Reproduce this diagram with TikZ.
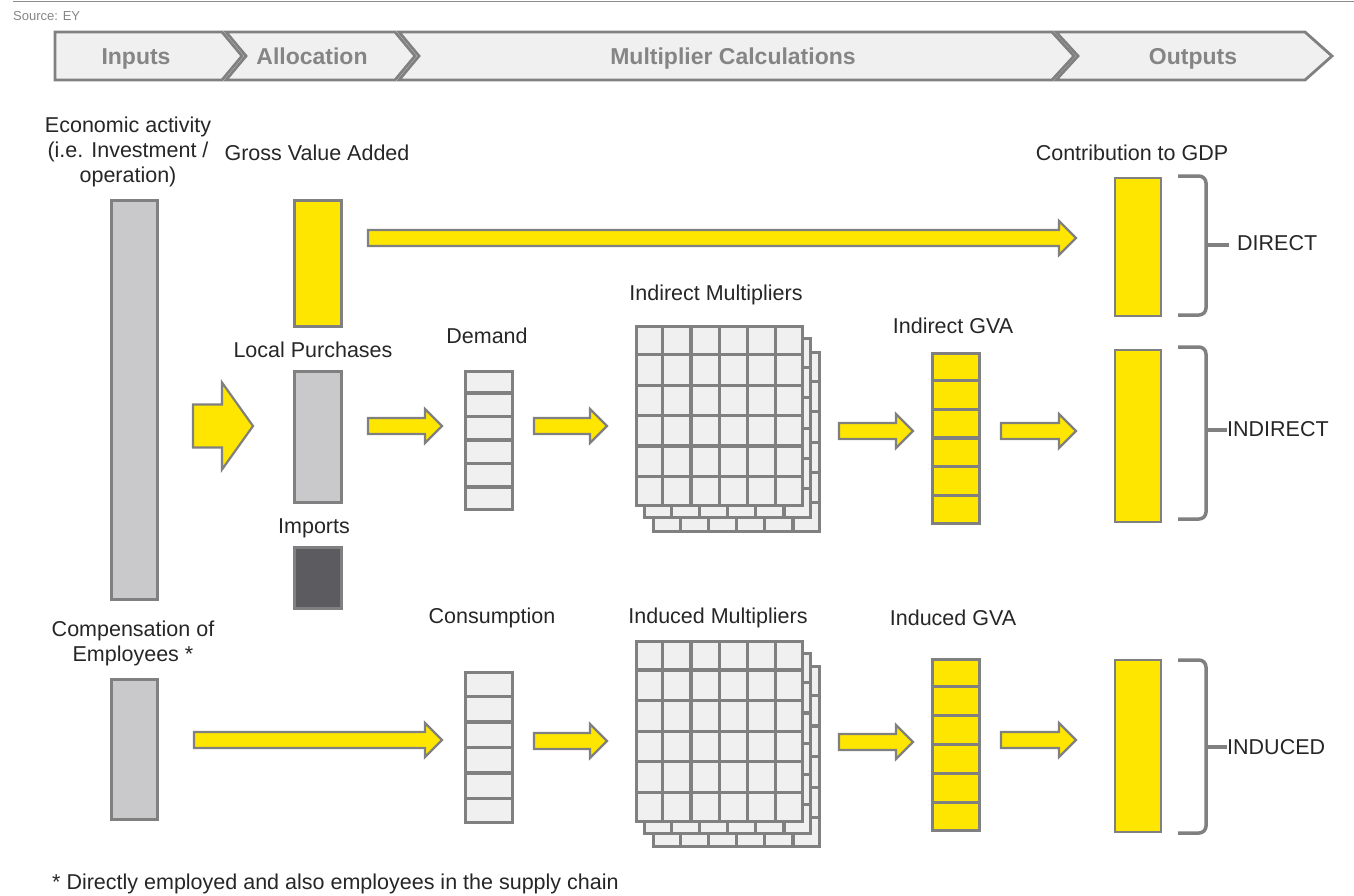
\documentclass[tikz,border=0pt]{standalone}
\usepackage{fontspec}
\setmainfont{Liberation Sans}
\usetikzlibrary{calc}
\definecolor{eyyel}{HTML}{FFE600}
\definecolor{edge}{HTML}{808080}
\definecolor{lgray}{HTML}{C9C9CB}
\definecolor{cellf}{HTML}{F0F0F0}
\definecolor{dgray}{HTML}{5C5B60}
\definecolor{txt}{HTML}{262626}
\definecolor{hdr}{HTML}{858585}

\tikzset{
  lbl/.style={text=txt, font=\fontsize{21.5}{25}\selectfont, inner sep=0pt, align=center},
  hlbl/.style={text=hdr, font=\bfseries\fontsize{23}{26}\selectfont, inner sep=0pt, anchor=base},
  chev/.style={draw=edge, fill=cellf, line width=2.8pt, line join=miter},
  bar/.style={draw=edge, line width=3pt, inner sep=0pt, anchor=north west},
  yarr/.style={draw=edge, fill=eyyel, line width=2.2pt, line join=miter},
  brk/.style={draw=edge, line width=3.5pt, rounded corners=7pt},
  gline/.style={draw=edge, line width=3.2pt}
}

% start, end, shaft half, head half, head length
\newcommand{\blockarrow}[5]{%
  \draw[yarr] ($(#1)+(0,-#3)$) -- ($(#2)+(-#5,-#3)$) -- ($(#2)+(-#5,-#4)$) -- (#2)
    -- ($(#2)+(-#5,#4)$) -- ($(#2)+(-#5,#3)$) -- ($(#1)+(0,#3)$) -- cycle;}

% name, x, y, height, fill
\newcommand{\cellcol}[5]{%
  \node[bar, fill=#5, minimum width=47pt, minimum height=#4pt] (#1) at (#2,#3) {};
  \foreach \k in {1,...,5}
    \draw[gline] ($(#1.north west)!\k/6!(#1.south west)$) -- ($(#1.north east)!\k/6!(#1.south east)$);}

% name, x, y, height
\newcommand{\mlayer}[4]{%
  \node[bar, line width=3.2pt, fill=cellf, minimum width=166pt, minimum height=#4pt] (#1) at (#2,#3) {};
  \foreach \k in {1,...,5}{
    \draw[gline] ($(#1.north west)!\k/6!(#1.north east)$) -- ($(#1.south west)!\k/6!(#1.south east)$);
    \draw[gline] ($(#1.north west)!\k/6!(#1.south west)$) -- ($(#1.north east)!\k/6!(#1.south east)$);}}

\begin{document}
\begin{tikzpicture}[x=1pt,y=-1pt]
\useasboundingbox (0,0) rectangle (1354,895);

% top rule and source
\draw[draw=edge!90, line width=1.5pt] (13,1.5) -- (1354,1.5);
\node[anchor=west, text=hdr, font=\fontsize{13}{15}\selectfont, inner sep=0pt] (src) at (13,16) {Source: EY};

% header chevrons
\draw[chev] (55,32) -- (222,32) -- (242,56) -- (222,80) -- (55,80) -- cycle;
\draw[chev] (226,32) -- (395,32) -- (415,56) -- (395,80) -- (226,80) -- (246,56) -- cycle;
\draw[chev] (399,32) -- (1052,32) -- (1074,56) -- (1052,80) -- (399,80) -- (419,56) -- cycle;
\draw[chev] (1056,32) -- (1305,32) -- (1332,56) -- (1305,80) -- (1056,80) -- (1078,56) -- cycle;
\node[hlbl] (hin) at (136,64) {Inputs};
\node[hlbl] (hal) at (312,64) {Allocation};
\node[hlbl] (hmc) at (733,64) {Multiplier Calculations};
\node[hlbl] (hout) at (1193,64) {Outputs};

% labels
\node[lbl] (tea) at (128,152) {Economic activity\\(i.e. Investment /\\operation)};
\node[lbl] (tgva) at (317,153) {Gross Value Added};
\node[lbl] (tgdp) at (1132,153) {Contribution to GDP};
\node[lbl] (tim) at (716,295) {Indirect Multipliers};
\node[lbl] (tdem) at (487,336) {Demand};
\node[lbl] (tlp) at (313,350) {Local Purchases};
\node[lbl] (tigva) at (953,326) {Indirect GVA};
\node[lbl] (timp) at (314,528) {Imports};
\node[lbl] (tcmp) at (133,643) {Compensation of\\Employees *};
\node[lbl] (tcon) at (492,618) {Consumption};
\node[lbl] (tnm) at (718,618) {Induced Multipliers};
\node[lbl] (tngva) at (953,618) {Induced GVA};
\node[lbl, anchor=west] (foot) at (52,884) {* Directly employed and also employees in the supply chain};

% bars
\node[bar, fill=lgray, minimum width=46pt, minimum height=399pt] (ea) at (109.5,198.5) {};
\node[bar, fill=eyyel, minimum width=47pt, minimum height=126pt] (gva) at (292.5,198.5) {};
\node[bar, fill=lgray, minimum width=47pt, minimum height=131pt] (lp) at (292.5,369.5) {};
\node[bar, fill=dgray, minimum width=47pt, minimum height=61pt] (imp) at (292.5,545.5) {};
\node[bar, fill=lgray, minimum width=46pt, minimum height=140pt] (cmp) at (109.5,677.5) {};

% cell columns
\cellcol{dem}{463.5}{369.5}{138}{cellf}
\cellcol{con}{463.5}{671}{150}{cellf}
\cellcol{igva}{930.5}{351.5}{170}{eyyel}
\cellcol{ngva}{930.5}{657.5}{171}{eyyel}

% matrices
\mlayer{im3}{652}{351}{179}
\mlayer{im2}{643}{337}{179}
\mlayer{im1}{634.5}{324.5}{179}
\mlayer{nm3}{652}{665}{180}
\mlayer{nm2}{643}{652}{180}
\mlayer{nm1}{634.5}{639.5}{180}

% output bars
\node[bar, fill=eyyel, line width=2.2pt, minimum width=46pt, minimum height=138pt] (o1) at (1114,177) {};
\node[bar, fill=eyyel, line width=2.2pt, minimum width=46pt, minimum height=172pt] (o2) at (1114,349) {};
\node[bar, fill=eyyel, line width=2.2pt, minimum width=46pt, minimum height=172pt] (o3) at (1114,659) {};

% brackets
\draw[brk] (1178,176) -- (1206,176) -- (1206,315) -- (1178,315);
\draw[gline, line width=3.5pt] (1206,245) -- (1229,245);
\node[lbl, anchor=west] (ldir) at (1237,243) {DIRECT};
\draw[brk] (1178,347) -- (1206,347) -- (1206,519) -- (1178,519);
\draw[gline, line width=3.5pt] (1206,430) -- (1227,430);
\node[lbl, anchor=west] (lind) at (1227,429) {INDIRECT};
\draw[brk] (1178,660) -- (1206,660) -- (1206,833) -- (1178,833);
\draw[gline, line width=3.5pt] (1206,747) -- (1227,747);
\node[lbl, anchor=west] (lnd) at (1227,747) {INDUCED};

% arrow coordinates
\coordinate (b1) at (193,426); \coordinate (b2) at (253,426);
\coordinate (r1a) at (368,238); \coordinate (r1b) at (1076,238);
\coordinate (r2a) at (368,426); \coordinate (r2b) at (442,426);
\coordinate (r2c) at (534,426); \coordinate (r2d) at (607,426);
\coordinate (r2e) at (839,431); \coordinate (r2f) at (913,431);
\coordinate (r2g) at (1001,431); \coordinate (r2h) at (1076,431);
\coordinate (r3a) at (194,740); \coordinate (r3b) at (442,740);
\coordinate (r3c) at (534,741); \coordinate (r3d) at (607,741);
\coordinate (r3e) at (839,742); \coordinate (r3f) at (913,742);
\coordinate (r3g) at (1001,740); \coordinate (r3h) at (1076,740);

\blockarrow{b1}{b2}{21.5}{43.5}{31}
\blockarrow{r1a}{r1b}{8}{17}{17}
\blockarrow{r2a}{r2b}{8}{17}{17}
\blockarrow{r2c}{r2d}{8}{17}{17}
\blockarrow{r2e}{r2f}{8}{17}{17}
\blockarrow{r2g}{r2h}{8}{17}{17}
\blockarrow{r3a}{r3b}{8}{17}{17}
\blockarrow{r3c}{r3d}{8}{17}{17}
\blockarrow{r3e}{r3f}{8}{17}{17}
\blockarrow{r3g}{r3h}{8}{17}{17}
\end{tikzpicture}
\end{document}
